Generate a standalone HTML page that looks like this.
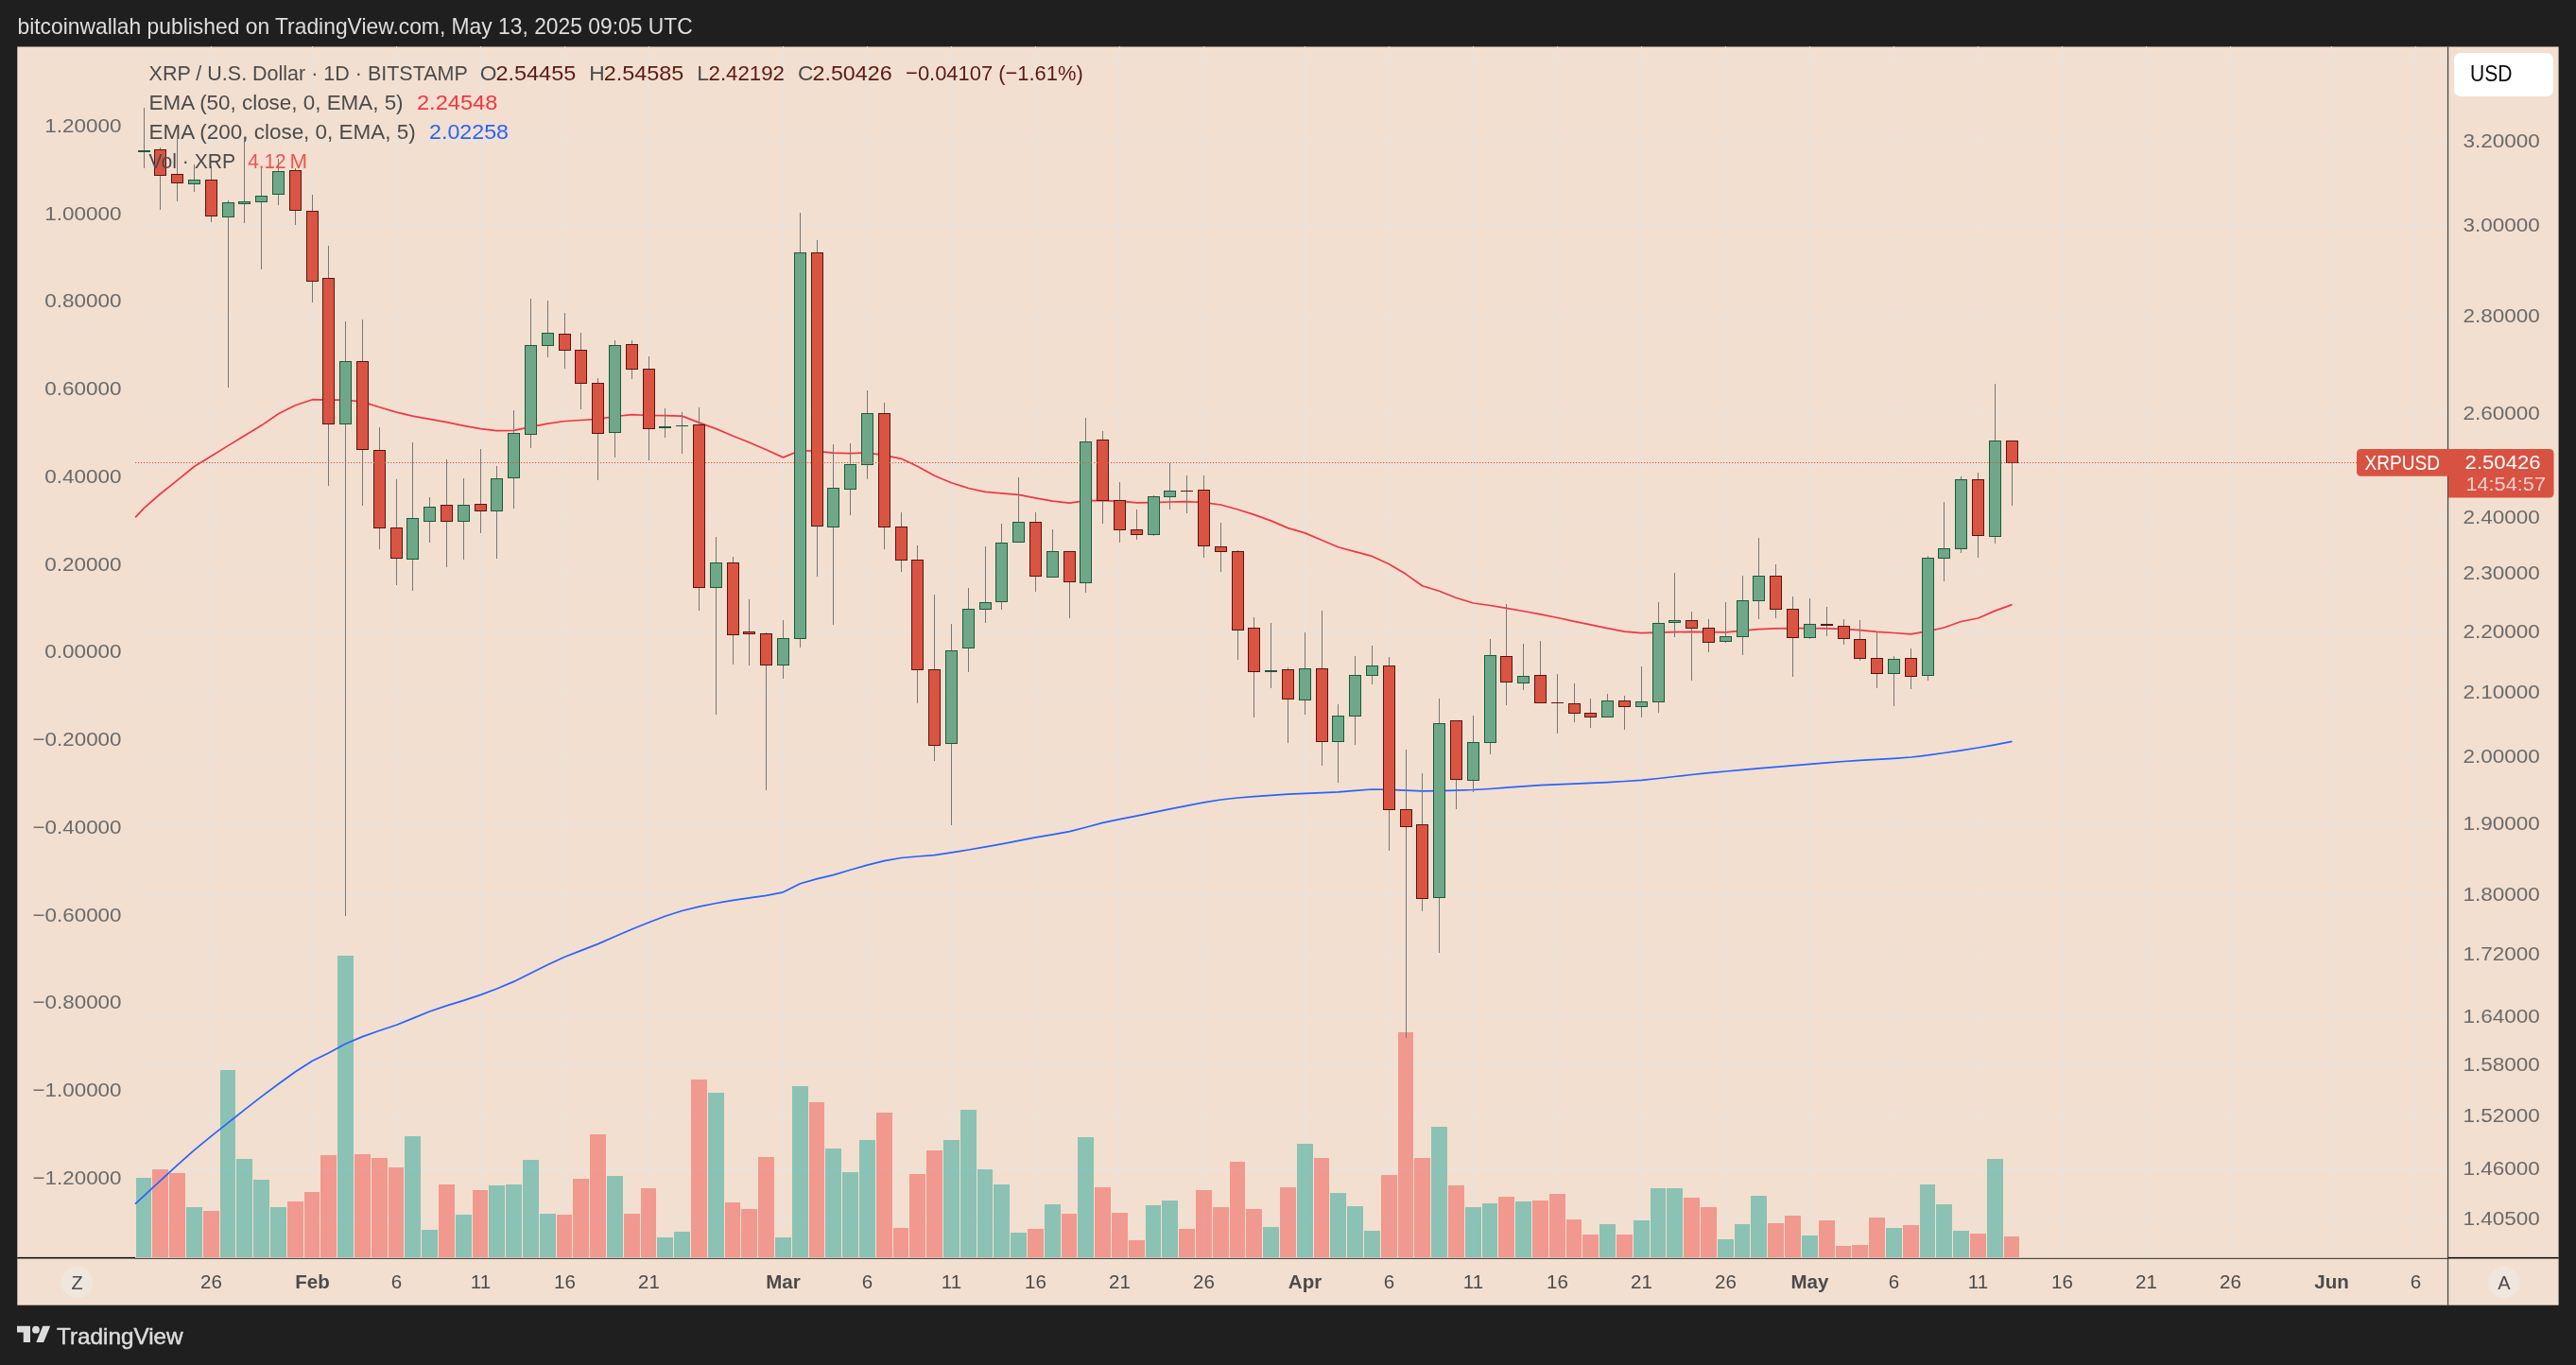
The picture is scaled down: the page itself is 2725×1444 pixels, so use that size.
<!DOCTYPE html>
<html><head><meta charset="utf-8"><title>XRPUSD</title>
<style>html,body{margin:0;padding:0;background:#1f1f1f;}body{width:2725px;height:1444px;position:relative;overflow:hidden;font-family:"Liberation Sans", sans-serif;}</style>
</head><body>
<svg width="2725" height="1444" viewBox="0 0 2725 1444" style="position:absolute;left:0;top:0;will-change:transform" font-family='"Liberation Sans", sans-serif'>
<rect x="18.3" y="49.45" width="2688.2999999999997" height="1331.25" fill="#f2dfcf"/>
<g stroke="#e5e4e4" stroke-width="1" shape-rendering="crispEdges">
<line x1="143" x2="2589.5" y1="65.5" y2="65.5"/>
<line x1="143" x2="2589.5" y1="149.5" y2="149.5"/>
<line x1="143" x2="2589.5" y1="238.5" y2="238.5"/>
<line x1="143" x2="2589.5" y1="334.5" y2="334.5"/>
<line x1="143" x2="2589.5" y1="437.5" y2="437.5"/>
<line x1="143" x2="2589.5" y1="491.5" y2="491.5"/>
<line x1="143" x2="2589.5" y1="547.5" y2="547.5"/>
<line x1="143" x2="2589.5" y1="606.5" y2="606.5"/>
<line x1="143" x2="2589.5" y1="668.5" y2="668.5"/>
<line x1="143" x2="2589.5" y1="732.5" y2="732.5"/>
<line x1="143" x2="2589.5" y1="800.5" y2="800.5"/>
<line x1="143" x2="2589.5" y1="871.5" y2="871.5"/>
<line x1="143" x2="2589.5" y1="946.5" y2="946.5"/>
<line x1="143" x2="2589.5" y1="1009.5" y2="1009.5"/>
<line x1="143" x2="2589.5" y1="1075.5" y2="1075.5"/>
<line x1="143" x2="2589.5" y1="1126.5" y2="1126.5"/>
<line x1="143" x2="2589.5" y1="1180.5" y2="1180.5"/>
<line x1="143" x2="2589.5" y1="1236.5" y2="1236.5"/>
<line x1="143" x2="2589.5" y1="1289.5" y2="1289.5"/>
<line x1="223.5" x2="223.5" y1="49.45" y2="1330.5"/>
<line x1="330.5" x2="330.5" y1="49.45" y2="1330.5"/>
<line x1="419.5" x2="419.5" y1="49.45" y2="1330.5"/>
<line x1="508.5" x2="508.5" y1="49.45" y2="1330.5"/>
<line x1="597.5" x2="597.5" y1="49.45" y2="1330.5"/>
<line x1="686.5" x2="686.5" y1="49.45" y2="1330.5"/>
<line x1="828.5" x2="828.5" y1="49.45" y2="1330.5"/>
<line x1="917.5" x2="917.5" y1="49.45" y2="1330.5"/>
<line x1="1006.5" x2="1006.5" y1="49.45" y2="1330.5"/>
<line x1="1095.5" x2="1095.5" y1="49.45" y2="1330.5"/>
<line x1="1184.5" x2="1184.5" y1="49.45" y2="1330.5"/>
<line x1="1273.5" x2="1273.5" y1="49.45" y2="1330.5"/>
<line x1="1380.5" x2="1380.5" y1="49.45" y2="1330.5"/>
<line x1="1469.5" x2="1469.5" y1="49.45" y2="1330.5"/>
<line x1="1558.5" x2="1558.5" y1="49.45" y2="1330.5"/>
<line x1="1647.5" x2="1647.5" y1="49.45" y2="1330.5"/>
<line x1="1736.5" x2="1736.5" y1="49.45" y2="1330.5"/>
<line x1="1825.5" x2="1825.5" y1="49.45" y2="1330.5"/>
<line x1="1914.5" x2="1914.5" y1="49.45" y2="1330.5"/>
<line x1="2003.5" x2="2003.5" y1="49.45" y2="1330.5"/>
<line x1="2092.5" x2="2092.5" y1="49.45" y2="1330.5"/>
<line x1="2181.5" x2="2181.5" y1="49.45" y2="1330.5"/>
<line x1="2270.5" x2="2270.5" y1="49.45" y2="1330.5"/>
<line x1="2359.5" x2="2359.5" y1="49.45" y2="1330.5"/>
<line x1="2466.5" x2="2466.5" y1="49.45" y2="1330.5"/>
<line x1="2555.5" x2="2555.5" y1="49.45" y2="1330.5"/>
</g>
<g shape-rendering="crispEdges">
<rect x="144" y="1246" width="16" height="84" fill="rgba(38,166,154,0.5)"/>
<rect x="161" y="1237" width="17" height="93" fill="rgba(239,83,80,0.5)"/>
<rect x="179" y="1241" width="17" height="89" fill="rgba(239,83,80,0.5)"/>
<rect x="197" y="1277" width="17" height="53" fill="rgba(38,166,154,0.5)"/>
<rect x="215" y="1281" width="17" height="49" fill="rgba(239,83,80,0.5)"/>
<rect x="233" y="1132" width="16" height="198" fill="rgba(38,166,154,0.5)"/>
<rect x="250" y="1226" width="17" height="104" fill="rgba(38,166,154,0.5)"/>
<rect x="268" y="1248" width="17" height="82" fill="rgba(38,166,154,0.5)"/>
<rect x="286" y="1277" width="17" height="53" fill="rgba(38,166,154,0.5)"/>
<rect x="304" y="1271" width="17" height="59" fill="rgba(239,83,80,0.5)"/>
<rect x="322" y="1261" width="16" height="69" fill="rgba(239,83,80,0.5)"/>
<rect x="339" y="1222" width="17" height="108" fill="rgba(239,83,80,0.5)"/>
<rect x="357" y="1011" width="17" height="319" fill="rgba(38,166,154,0.5)"/>
<rect x="375" y="1221" width="17" height="109" fill="rgba(239,83,80,0.5)"/>
<rect x="393" y="1225" width="17" height="105" fill="rgba(239,83,80,0.5)"/>
<rect x="411" y="1235" width="16" height="95" fill="rgba(239,83,80,0.5)"/>
<rect x="428" y="1202" width="17" height="128" fill="rgba(38,166,154,0.5)"/>
<rect x="446" y="1301" width="17" height="29" fill="rgba(38,166,154,0.5)"/>
<rect x="464" y="1253" width="17" height="77" fill="rgba(239,83,80,0.5)"/>
<rect x="482" y="1285" width="17" height="45" fill="rgba(38,166,154,0.5)"/>
<rect x="500" y="1259" width="16" height="71" fill="rgba(239,83,80,0.5)"/>
<rect x="517" y="1254" width="17" height="76" fill="rgba(38,166,154,0.5)"/>
<rect x="535" y="1253" width="17" height="77" fill="rgba(38,166,154,0.5)"/>
<rect x="553" y="1227" width="17" height="103" fill="rgba(38,166,154,0.5)"/>
<rect x="571" y="1284" width="17" height="46" fill="rgba(38,166,154,0.5)"/>
<rect x="589" y="1285" width="16" height="45" fill="rgba(239,83,80,0.5)"/>
<rect x="606" y="1247" width="17" height="83" fill="rgba(239,83,80,0.5)"/>
<rect x="624" y="1200" width="17" height="130" fill="rgba(239,83,80,0.5)"/>
<rect x="642" y="1244" width="17" height="86" fill="rgba(38,166,154,0.5)"/>
<rect x="660" y="1284" width="17" height="46" fill="rgba(239,83,80,0.5)"/>
<rect x="678" y="1257" width="16" height="73" fill="rgba(239,83,80,0.5)"/>
<rect x="695" y="1309" width="17" height="21" fill="rgba(38,166,154,0.5)"/>
<rect x="713" y="1303" width="17" height="27" fill="rgba(38,166,154,0.5)"/>
<rect x="731" y="1142" width="17" height="188" fill="rgba(239,83,80,0.5)"/>
<rect x="749" y="1156" width="17" height="174" fill="rgba(38,166,154,0.5)"/>
<rect x="767" y="1272" width="16" height="58" fill="rgba(239,83,80,0.5)"/>
<rect x="784" y="1279" width="17" height="51" fill="rgba(239,83,80,0.5)"/>
<rect x="802" y="1224" width="17" height="106" fill="rgba(239,83,80,0.5)"/>
<rect x="820" y="1309" width="17" height="21" fill="rgba(38,166,154,0.5)"/>
<rect x="838" y="1149" width="17" height="181" fill="rgba(38,166,154,0.5)"/>
<rect x="856" y="1166" width="16" height="164" fill="rgba(239,83,80,0.5)"/>
<rect x="873" y="1215" width="17" height="115" fill="rgba(38,166,154,0.5)"/>
<rect x="891" y="1240" width="17" height="90" fill="rgba(38,166,154,0.5)"/>
<rect x="909" y="1206" width="17" height="124" fill="rgba(38,166,154,0.5)"/>
<rect x="927" y="1177" width="17" height="153" fill="rgba(239,83,80,0.5)"/>
<rect x="945" y="1299" width="16" height="31" fill="rgba(239,83,80,0.5)"/>
<rect x="962" y="1242" width="17" height="88" fill="rgba(239,83,80,0.5)"/>
<rect x="980" y="1217" width="17" height="113" fill="rgba(239,83,80,0.5)"/>
<rect x="998" y="1206" width="17" height="124" fill="rgba(38,166,154,0.5)"/>
<rect x="1016" y="1174" width="17" height="156" fill="rgba(38,166,154,0.5)"/>
<rect x="1034" y="1237" width="16" height="93" fill="rgba(38,166,154,0.5)"/>
<rect x="1051" y="1253" width="17" height="77" fill="rgba(38,166,154,0.5)"/>
<rect x="1069" y="1304" width="17" height="26" fill="rgba(38,166,154,0.5)"/>
<rect x="1087" y="1300" width="17" height="30" fill="rgba(239,83,80,0.5)"/>
<rect x="1105" y="1274" width="17" height="56" fill="rgba(38,166,154,0.5)"/>
<rect x="1123" y="1284" width="16" height="46" fill="rgba(239,83,80,0.5)"/>
<rect x="1140" y="1203" width="17" height="127" fill="rgba(38,166,154,0.5)"/>
<rect x="1158" y="1256" width="17" height="74" fill="rgba(239,83,80,0.5)"/>
<rect x="1176" y="1283" width="17" height="47" fill="rgba(239,83,80,0.5)"/>
<rect x="1194" y="1312" width="17" height="18" fill="rgba(239,83,80,0.5)"/>
<rect x="1212" y="1275" width="16" height="55" fill="rgba(38,166,154,0.5)"/>
<rect x="1229" y="1270" width="17" height="60" fill="rgba(38,166,154,0.5)"/>
<rect x="1247" y="1300" width="17" height="30" fill="rgba(239,83,80,0.5)"/>
<rect x="1265" y="1259" width="17" height="71" fill="rgba(239,83,80,0.5)"/>
<rect x="1283" y="1277" width="17" height="53" fill="rgba(239,83,80,0.5)"/>
<rect x="1301" y="1229" width="16" height="101" fill="rgba(239,83,80,0.5)"/>
<rect x="1318" y="1279" width="17" height="51" fill="rgba(239,83,80,0.5)"/>
<rect x="1336" y="1298" width="17" height="32" fill="rgba(38,166,154,0.5)"/>
<rect x="1354" y="1256" width="17" height="74" fill="rgba(239,83,80,0.5)"/>
<rect x="1372" y="1210" width="17" height="120" fill="rgba(38,166,154,0.5)"/>
<rect x="1390" y="1225" width="16" height="105" fill="rgba(239,83,80,0.5)"/>
<rect x="1407" y="1262" width="17" height="68" fill="rgba(38,166,154,0.5)"/>
<rect x="1425" y="1276" width="17" height="54" fill="rgba(38,166,154,0.5)"/>
<rect x="1443" y="1302" width="17" height="28" fill="rgba(38,166,154,0.5)"/>
<rect x="1461" y="1243" width="17" height="87" fill="rgba(239,83,80,0.5)"/>
<rect x="1479" y="1092" width="16" height="238" fill="rgba(239,83,80,0.5)"/>
<rect x="1496" y="1225" width="17" height="105" fill="rgba(239,83,80,0.5)"/>
<rect x="1514" y="1192" width="17" height="138" fill="rgba(38,166,154,0.5)"/>
<rect x="1532" y="1254" width="17" height="76" fill="rgba(239,83,80,0.5)"/>
<rect x="1550" y="1277" width="17" height="53" fill="rgba(38,166,154,0.5)"/>
<rect x="1568" y="1273" width="16" height="57" fill="rgba(38,166,154,0.5)"/>
<rect x="1585" y="1266" width="17" height="64" fill="rgba(239,83,80,0.5)"/>
<rect x="1603" y="1271" width="17" height="59" fill="rgba(38,166,154,0.5)"/>
<rect x="1621" y="1270" width="17" height="60" fill="rgba(239,83,80,0.5)"/>
<rect x="1639" y="1263" width="17" height="67" fill="rgba(239,83,80,0.5)"/>
<rect x="1657" y="1290" width="16" height="40" fill="rgba(239,83,80,0.5)"/>
<rect x="1674" y="1306" width="17" height="24" fill="rgba(239,83,80,0.5)"/>
<rect x="1692" y="1295" width="17" height="35" fill="rgba(38,166,154,0.5)"/>
<rect x="1710" y="1306" width="17" height="24" fill="rgba(239,83,80,0.5)"/>
<rect x="1728" y="1291" width="17" height="39" fill="rgba(38,166,154,0.5)"/>
<rect x="1746" y="1257" width="16" height="73" fill="rgba(38,166,154,0.5)"/>
<rect x="1763" y="1257" width="17" height="73" fill="rgba(38,166,154,0.5)"/>
<rect x="1781" y="1267" width="17" height="63" fill="rgba(239,83,80,0.5)"/>
<rect x="1799" y="1277" width="17" height="53" fill="rgba(239,83,80,0.5)"/>
<rect x="1817" y="1311" width="17" height="19" fill="rgba(38,166,154,0.5)"/>
<rect x="1835" y="1295" width="16" height="35" fill="rgba(38,166,154,0.5)"/>
<rect x="1852" y="1265" width="17" height="65" fill="rgba(38,166,154,0.5)"/>
<rect x="1870" y="1294" width="17" height="36" fill="rgba(239,83,80,0.5)"/>
<rect x="1888" y="1286" width="17" height="44" fill="rgba(239,83,80,0.5)"/>
<rect x="1906" y="1307" width="17" height="23" fill="rgba(38,166,154,0.5)"/>
<rect x="1924" y="1291" width="17" height="39" fill="rgba(239,83,80,0.5)"/>
<rect x="1942" y="1318" width="16" height="12" fill="rgba(239,83,80,0.5)"/>
<rect x="1959" y="1317" width="17" height="13" fill="rgba(239,83,80,0.5)"/>
<rect x="1977" y="1288" width="17" height="42" fill="rgba(239,83,80,0.5)"/>
<rect x="1995" y="1299" width="17" height="31" fill="rgba(38,166,154,0.5)"/>
<rect x="2013" y="1296" width="17" height="34" fill="rgba(239,83,80,0.5)"/>
<rect x="2031" y="1253" width="16" height="77" fill="rgba(38,166,154,0.5)"/>
<rect x="2048" y="1274" width="17" height="56" fill="rgba(38,166,154,0.5)"/>
<rect x="2066" y="1302" width="17" height="28" fill="rgba(38,166,154,0.5)"/>
<rect x="2084" y="1305" width="17" height="25" fill="rgba(239,83,80,0.5)"/>
<rect x="2102" y="1226" width="17" height="104" fill="rgba(38,166,154,0.5)"/>
<rect x="2120" y="1308" width="16" height="22" fill="rgba(239,83,80,0.5)"/>
</g>
<path d="M143.0,1273.7 L152.5,1264.9 L169.5,1249.1 L187.5,1232.6 L205.5,1216.7 L223.5,1201.9 L241.5,1187.6 L258.5,1174.2 L276.5,1160.2 L294.5,1146.8 L312.5,1133.8 L330.5,1122.3 L347.5,1113.9 L365.5,1104.2 L383.5,1096.6 L401.5,1090.3 L419.5,1084.2 L436.5,1077.4 L454.5,1070.0 L472.5,1063.9 L490.5,1058.4 L508.5,1052.4 L525.5,1046.0 L543.5,1038.4 L561.5,1029.4 L579.5,1020.5 L597.5,1012.3 L614.5,1005.6 L632.5,998.6 L650.5,990.8 L668.5,983.0 L686.5,975.7 L703.5,969.2 L721.5,963.5 L739.5,959.1 L757.5,955.5 L775.5,952.4 L792.5,949.8 L810.5,947.4 L828.5,943.8 L846.5,934.7 L864.5,929.6 L881.5,925.6 L899.5,920.2 L917.5,915.1 L935.5,910.7 L953.5,907.5 L970.5,906.0 L988.5,904.6 L1006.5,901.9 L1024.5,899.0 L1042.5,895.9 L1059.5,892.8 L1077.5,889.3 L1095.5,885.8 L1113.5,882.8 L1131.5,879.6 L1148.5,875.2 L1166.5,870.4 L1184.5,866.6 L1202.5,863.1 L1220.5,859.4 L1237.5,855.9 L1255.5,852.4 L1273.5,848.9 L1291.5,846.0 L1309.5,844.0 L1326.5,842.6 L1344.5,841.3 L1362.5,840.2 L1380.5,839.3 L1398.5,838.6 L1415.5,837.9 L1433.5,836.4 L1451.5,835.0 L1469.5,835.4 L1487.5,836.2 L1504.5,836.8 L1522.5,836.6 L1540.5,836.1 L1558.5,835.5 L1576.5,834.5 L1593.5,833.2 L1611.5,831.8 L1629.5,830.6 L1647.5,829.8 L1665.5,829.1 L1682.5,828.4 L1700.5,827.6 L1718.5,826.5 L1736.5,825.3 L1754.5,823.5 L1771.5,821.5 L1789.5,819.5 L1807.5,817.7 L1825.5,816.0 L1843.5,814.3 L1860.5,812.9 L1878.5,811.4 L1896.5,809.9 L1914.5,808.3 L1932.5,806.8 L1950.5,805.5 L1967.5,804.4 L1985.5,803.3 L2003.5,802.3 L2021.5,801.0 L2039.5,798.9 L2056.5,796.5 L2074.5,793.8 L2092.5,791.0 L2110.5,787.8 L2128.5,784.4" fill="none" stroke="#2962ff" stroke-width="1.7" stroke-linejoin="round"/>
<path d="M143.1,547.3 L152.5,537.3 L169.5,522.5 L187.5,508.2 L205.5,493.5 L223.5,482.5 L241.5,471.4 L258.5,461.0 L276.5,450.1 L294.5,437.7 L312.5,428.7 L330.5,422.7 L347.5,423.1 L365.5,423.0 L383.5,425.1 L401.5,430.7 L419.5,436.1 L436.5,440.1 L454.5,443.3 L472.5,446.6 L490.5,450.4 L508.5,453.7 L525.5,455.7 L543.5,455.4 L561.5,451.6 L579.5,448.1 L597.5,445.5 L614.5,444.5 L632.5,443.3 L650.5,440.5 L668.5,438.7 L686.5,439.5 L703.5,439.7 L721.5,440.1 L739.5,447.1 L757.5,453.6 L775.5,461.3 L792.5,468.0 L810.5,475.8 L828.5,483.9 L846.5,476.5 L864.5,477.4 L881.5,479.1 L899.5,479.6 L917.5,478.9 L935.5,481.7 L953.5,485.3 L970.5,493.3 L988.5,503.2 L1006.5,510.7 L1024.5,516.5 L1042.5,520.3 L1059.5,521.8 L1077.5,523.3 L1095.5,526.8 L1113.5,530.2 L1131.5,532.1 L1148.5,529.6 L1166.5,529.7 L1184.5,530.1 L1202.5,531.9 L1220.5,531.6 L1237.5,531.0 L1255.5,530.6 L1273.5,531.6 L1291.5,534.0 L1309.5,539.0 L1326.5,544.4 L1344.5,550.9 L1362.5,558.6 L1380.5,563.9 L1398.5,571.5 L1415.5,578.8 L1433.5,583.6 L1451.5,588.4 L1469.5,596.7 L1487.5,607.6 L1504.5,619.8 L1522.5,625.3 L1540.5,632.5 L1558.5,638.0 L1576.5,640.5 L1593.5,643.4 L1611.5,646.5 L1629.5,649.8 L1647.5,653.5 L1665.5,657.4 L1682.5,660.8 L1700.5,664.7 L1718.5,668.1 L1736.5,669.6 L1754.5,669.1 L1771.5,668.6 L1789.5,668.4 L1807.5,668.7 L1825.5,668.9 L1843.5,667.1 L1860.5,665.6 L1878.5,664.9 L1896.5,664.7 L1914.5,664.6 L1932.5,664.9 L1950.5,665.4 L1967.5,666.7 L1985.5,668.4 L2003.5,669.5 L2021.5,670.8 L2039.5,667.6 L2056.5,664.0 L2074.5,657.5 L2092.5,654.0 L2110.5,646.1 L2128.5,639.6" fill="none" stroke="#f23645" stroke-width="1.7" stroke-linejoin="round"/>
<g shape-rendering="crispEdges">
<rect x="152" y="114" width="1" height="64" fill="#77777a"/>
<rect x="169" y="156" width="1" height="66" fill="#77777a"/>
<rect x="187" y="147" width="1" height="66" fill="#77777a"/>
<rect x="205" y="174" width="1" height="29" fill="#77777a"/>
<rect x="223" y="176" width="1" height="59" fill="#77777a"/>
<rect x="241" y="212" width="1" height="198" fill="#77777a"/>
<rect x="258" y="146" width="1" height="90" fill="#77777a"/>
<rect x="276" y="177" width="1" height="108" fill="#77777a"/>
<rect x="294" y="168" width="1" height="49" fill="#77777a"/>
<rect x="312" y="178" width="1" height="60" fill="#77777a"/>
<rect x="330" y="206" width="1" height="114" fill="#77777a"/>
<rect x="347" y="260" width="1" height="254" fill="#77777a"/>
<rect x="365" y="340" width="1" height="629" fill="#77777a"/>
<rect x="383" y="338" width="1" height="197" fill="#77777a"/>
<rect x="401" y="452" width="1" height="129" fill="#77777a"/>
<rect x="419" y="507" width="1" height="112" fill="#77777a"/>
<rect x="436" y="468" width="1" height="157" fill="#77777a"/>
<rect x="454" y="526" width="1" height="48" fill="#77777a"/>
<rect x="472" y="486" width="1" height="114" fill="#77777a"/>
<rect x="490" y="506" width="1" height="86" fill="#77777a"/>
<rect x="508" y="475" width="1" height="89" fill="#77777a"/>
<rect x="525" y="493" width="1" height="98" fill="#77777a"/>
<rect x="543" y="434" width="1" height="104" fill="#77777a"/>
<rect x="561" y="316" width="1" height="158" fill="#77777a"/>
<rect x="579" y="318" width="1" height="60" fill="#77777a"/>
<rect x="597" y="331" width="1" height="59" fill="#77777a"/>
<rect x="614" y="352" width="1" height="81" fill="#77777a"/>
<rect x="632" y="400" width="1" height="108" fill="#77777a"/>
<rect x="650" y="360" width="1" height="124" fill="#77777a"/>
<rect x="668" y="360" width="1" height="41" fill="#77777a"/>
<rect x="686" y="377" width="1" height="110" fill="#77777a"/>
<rect x="703" y="432" width="1" height="31" fill="#77777a"/>
<rect x="721" y="436" width="1" height="44" fill="#77777a"/>
<rect x="739" y="431" width="1" height="215" fill="#77777a"/>
<rect x="757" y="568" width="1" height="188" fill="#77777a"/>
<rect x="775" y="589" width="1" height="114" fill="#77777a"/>
<rect x="792" y="634" width="1" height="70" fill="#77777a"/>
<rect x="810" y="669" width="1" height="167" fill="#77777a"/>
<rect x="828" y="656" width="1" height="62" fill="#77777a"/>
<rect x="846" y="225" width="1" height="460" fill="#77777a"/>
<rect x="864" y="254" width="1" height="356" fill="#77777a"/>
<rect x="881" y="470" width="1" height="191" fill="#77777a"/>
<rect x="899" y="469" width="1" height="76" fill="#77777a"/>
<rect x="917" y="413" width="1" height="94" fill="#77777a"/>
<rect x="935" y="426" width="1" height="155" fill="#77777a"/>
<rect x="953" y="542" width="1" height="63" fill="#77777a"/>
<rect x="970" y="577" width="1" height="167" fill="#77777a"/>
<rect x="988" y="629" width="1" height="176" fill="#77777a"/>
<rect x="1006" y="660" width="1" height="213" fill="#77777a"/>
<rect x="1024" y="622" width="1" height="89" fill="#77777a"/>
<rect x="1042" y="578" width="1" height="81" fill="#77777a"/>
<rect x="1059" y="554" width="1" height="91" fill="#77777a"/>
<rect x="1077" y="505" width="1" height="69" fill="#77777a"/>
<rect x="1095" y="542" width="1" height="84" fill="#77777a"/>
<rect x="1113" y="560" width="1" height="50" fill="#77777a"/>
<rect x="1131" y="583" width="1" height="71" fill="#77777a"/>
<rect x="1148" y="442" width="1" height="185" fill="#77777a"/>
<rect x="1166" y="456" width="1" height="98" fill="#77777a"/>
<rect x="1184" y="510" width="1" height="64" fill="#77777a"/>
<rect x="1202" y="539" width="1" height="32" fill="#77777a"/>
<rect x="1220" y="524" width="1" height="43" fill="#77777a"/>
<rect x="1237" y="490" width="1" height="49" fill="#77777a"/>
<rect x="1255" y="503" width="1" height="40" fill="#77777a"/>
<rect x="1273" y="503" width="1" height="87" fill="#77777a"/>
<rect x="1291" y="553" width="1" height="52" fill="#77777a"/>
<rect x="1309" y="582" width="1" height="116" fill="#77777a"/>
<rect x="1326" y="653" width="1" height="106" fill="#77777a"/>
<rect x="1344" y="659" width="1" height="69" fill="#77777a"/>
<rect x="1362" y="706" width="1" height="80" fill="#77777a"/>
<rect x="1380" y="669" width="1" height="87" fill="#77777a"/>
<rect x="1398" y="646" width="1" height="164" fill="#77777a"/>
<rect x="1415" y="745" width="1" height="83" fill="#77777a"/>
<rect x="1433" y="694" width="1" height="94" fill="#77777a"/>
<rect x="1451" y="683" width="1" height="41" fill="#77777a"/>
<rect x="1469" y="695" width="1" height="205" fill="#77777a"/>
<rect x="1487" y="793" width="1" height="305" fill="#77777a"/>
<rect x="1504" y="818" width="1" height="146" fill="#77777a"/>
<rect x="1522" y="739" width="1" height="269" fill="#77777a"/>
<rect x="1540" y="762" width="1" height="94" fill="#77777a"/>
<rect x="1558" y="757" width="1" height="81" fill="#77777a"/>
<rect x="1576" y="676" width="1" height="122" fill="#77777a"/>
<rect x="1593" y="639" width="1" height="107" fill="#77777a"/>
<rect x="1611" y="681" width="1" height="49" fill="#77777a"/>
<rect x="1629" y="678" width="1" height="66" fill="#77777a"/>
<rect x="1647" y="713" width="1" height="63" fill="#77777a"/>
<rect x="1665" y="723" width="1" height="41" fill="#77777a"/>
<rect x="1682" y="739" width="1" height="31" fill="#77777a"/>
<rect x="1700" y="734" width="1" height="25" fill="#77777a"/>
<rect x="1718" y="736" width="1" height="36" fill="#77777a"/>
<rect x="1736" y="705" width="1" height="54" fill="#77777a"/>
<rect x="1754" y="637" width="1" height="117" fill="#77777a"/>
<rect x="1771" y="606" width="1" height="68" fill="#77777a"/>
<rect x="1789" y="647" width="1" height="73" fill="#77777a"/>
<rect x="1807" y="655" width="1" height="35" fill="#77777a"/>
<rect x="1825" y="637" width="1" height="43" fill="#77777a"/>
<rect x="1843" y="609" width="1" height="84" fill="#77777a"/>
<rect x="1860" y="569" width="1" height="86" fill="#77777a"/>
<rect x="1878" y="597" width="1" height="57" fill="#77777a"/>
<rect x="1896" y="631" width="1" height="85" fill="#77777a"/>
<rect x="1914" y="633" width="1" height="43" fill="#77777a"/>
<rect x="1932" y="642" width="1" height="31" fill="#77777a"/>
<rect x="1950" y="655" width="1" height="27" fill="#77777a"/>
<rect x="1967" y="656" width="1" height="43" fill="#77777a"/>
<rect x="1985" y="668" width="1" height="60" fill="#77777a"/>
<rect x="2003" y="694" width="1" height="53" fill="#77777a"/>
<rect x="2021" y="686" width="1" height="43" fill="#77777a"/>
<rect x="2039" y="588" width="1" height="132" fill="#77777a"/>
<rect x="2056" y="531" width="1" height="84" fill="#77777a"/>
<rect x="2074" y="504" width="1" height="81" fill="#77777a"/>
<rect x="2092" y="500" width="1" height="90" fill="#77777a"/>
<rect x="2110" y="406" width="1" height="169" fill="#77777a"/>
<rect x="2128" y="466" width="1" height="69" fill="#77777a"/>
<rect x="146" y="159" width="13" height="2" fill="#1d5a3c"/>
<rect x="163" y="158" width="13" height="28" fill="#5a1510"/>
<rect x="164" y="159" width="11" height="26" fill="#da5443"/>
<rect x="181" y="184" width="13" height="10" fill="#5a1510"/>
<rect x="182" y="185" width="11" height="8" fill="#da5443"/>
<rect x="199" y="190" width="13" height="5" fill="#1d5a3c"/>
<rect x="200" y="191" width="11" height="3" fill="#6fa888"/>
<rect x="217" y="190" width="13" height="39" fill="#5a1510"/>
<rect x="218" y="191" width="11" height="37" fill="#da5443"/>
<rect x="235" y="214" width="13" height="16" fill="#1d5a3c"/>
<rect x="236" y="215" width="11" height="14" fill="#6fa888"/>
<rect x="252" y="213" width="13" height="3" fill="#1d5a3c"/>
<rect x="253" y="214" width="11" height="1" fill="#6fa888"/>
<rect x="270" y="207" width="13" height="7" fill="#1d5a3c"/>
<rect x="271" y="208" width="11" height="5" fill="#6fa888"/>
<rect x="288" y="181" width="13" height="25" fill="#1d5a3c"/>
<rect x="289" y="182" width="11" height="23" fill="#6fa888"/>
<rect x="306" y="180" width="13" height="43" fill="#5a1510"/>
<rect x="307" y="181" width="11" height="41" fill="#da5443"/>
<rect x="324" y="223" width="13" height="75" fill="#5a1510"/>
<rect x="325" y="224" width="11" height="73" fill="#da5443"/>
<rect x="341" y="294" width="13" height="155" fill="#5a1510"/>
<rect x="342" y="295" width="11" height="153" fill="#da5443"/>
<rect x="359" y="382" width="13" height="67" fill="#1d5a3c"/>
<rect x="360" y="383" width="11" height="65" fill="#6fa888"/>
<rect x="377" y="382" width="13" height="94" fill="#5a1510"/>
<rect x="378" y="383" width="11" height="92" fill="#da5443"/>
<rect x="395" y="476" width="13" height="83" fill="#5a1510"/>
<rect x="396" y="477" width="11" height="81" fill="#da5443"/>
<rect x="413" y="558" width="13" height="33" fill="#5a1510"/>
<rect x="414" y="559" width="11" height="31" fill="#da5443"/>
<rect x="430" y="548" width="13" height="44" fill="#1d5a3c"/>
<rect x="431" y="549" width="11" height="42" fill="#6fa888"/>
<rect x="448" y="536" width="13" height="16" fill="#1d5a3c"/>
<rect x="449" y="537" width="11" height="14" fill="#6fa888"/>
<rect x="466" y="534" width="13" height="18" fill="#5a1510"/>
<rect x="467" y="535" width="11" height="16" fill="#da5443"/>
<rect x="484" y="534" width="13" height="18" fill="#1d5a3c"/>
<rect x="485" y="535" width="11" height="16" fill="#6fa888"/>
<rect x="502" y="533" width="13" height="8" fill="#5a1510"/>
<rect x="503" y="534" width="11" height="6" fill="#da5443"/>
<rect x="519" y="506" width="13" height="35" fill="#1d5a3c"/>
<rect x="520" y="507" width="11" height="33" fill="#6fa888"/>
<rect x="537" y="458" width="13" height="48" fill="#1d5a3c"/>
<rect x="538" y="459" width="11" height="46" fill="#6fa888"/>
<rect x="555" y="365" width="13" height="95" fill="#1d5a3c"/>
<rect x="556" y="366" width="11" height="93" fill="#6fa888"/>
<rect x="573" y="352" width="13" height="14" fill="#1d5a3c"/>
<rect x="574" y="353" width="11" height="12" fill="#6fa888"/>
<rect x="591" y="353" width="13" height="18" fill="#5a1510"/>
<rect x="592" y="354" width="11" height="16" fill="#da5443"/>
<rect x="608" y="370" width="13" height="36" fill="#5a1510"/>
<rect x="609" y="371" width="11" height="34" fill="#da5443"/>
<rect x="626" y="405" width="13" height="54" fill="#5a1510"/>
<rect x="627" y="406" width="11" height="52" fill="#da5443"/>
<rect x="644" y="365" width="13" height="93" fill="#1d5a3c"/>
<rect x="645" y="366" width="11" height="91" fill="#6fa888"/>
<rect x="662" y="364" width="13" height="27" fill="#5a1510"/>
<rect x="663" y="365" width="11" height="25" fill="#da5443"/>
<rect x="680" y="390" width="13" height="64" fill="#5a1510"/>
<rect x="681" y="391" width="11" height="62" fill="#da5443"/>
<rect x="697" y="451" width="13" height="2" fill="#1d5a3c"/>
<rect x="715" y="450" width="13" height="1" fill="#1d5a3c"/>
<rect x="733" y="449" width="13" height="173" fill="#5a1510"/>
<rect x="734" y="450" width="11" height="171" fill="#da5443"/>
<rect x="751" y="595" width="13" height="27" fill="#1d5a3c"/>
<rect x="752" y="596" width="11" height="25" fill="#6fa888"/>
<rect x="769" y="595" width="13" height="77" fill="#5a1510"/>
<rect x="770" y="596" width="11" height="75" fill="#da5443"/>
<rect x="786" y="668" width="13" height="3" fill="#5a1510"/>
<rect x="787" y="669" width="11" height="1" fill="#da5443"/>
<rect x="804" y="670" width="13" height="34" fill="#5a1510"/>
<rect x="805" y="671" width="11" height="32" fill="#da5443"/>
<rect x="822" y="675" width="13" height="29" fill="#1d5a3c"/>
<rect x="823" y="676" width="11" height="27" fill="#6fa888"/>
<rect x="840" y="267" width="13" height="409" fill="#1d5a3c"/>
<rect x="841" y="268" width="11" height="407" fill="#6fa888"/>
<rect x="858" y="267" width="13" height="290" fill="#5a1510"/>
<rect x="859" y="268" width="11" height="288" fill="#da5443"/>
<rect x="875" y="516" width="13" height="42" fill="#1d5a3c"/>
<rect x="876" y="517" width="11" height="40" fill="#6fa888"/>
<rect x="893" y="491" width="13" height="27" fill="#1d5a3c"/>
<rect x="894" y="492" width="11" height="25" fill="#6fa888"/>
<rect x="911" y="437" width="13" height="55" fill="#1d5a3c"/>
<rect x="912" y="438" width="11" height="53" fill="#6fa888"/>
<rect x="929" y="437" width="13" height="121" fill="#5a1510"/>
<rect x="930" y="438" width="11" height="119" fill="#da5443"/>
<rect x="947" y="557" width="13" height="36" fill="#5a1510"/>
<rect x="948" y="558" width="11" height="34" fill="#da5443"/>
<rect x="964" y="592" width="13" height="117" fill="#5a1510"/>
<rect x="965" y="593" width="11" height="115" fill="#da5443"/>
<rect x="982" y="708" width="13" height="81" fill="#5a1510"/>
<rect x="983" y="709" width="11" height="79" fill="#da5443"/>
<rect x="1000" y="688" width="13" height="99" fill="#1d5a3c"/>
<rect x="1001" y="689" width="11" height="97" fill="#6fa888"/>
<rect x="1018" y="644" width="13" height="42" fill="#1d5a3c"/>
<rect x="1019" y="645" width="11" height="40" fill="#6fa888"/>
<rect x="1036" y="637" width="13" height="8" fill="#1d5a3c"/>
<rect x="1037" y="638" width="11" height="6" fill="#6fa888"/>
<rect x="1053" y="574" width="13" height="63" fill="#1d5a3c"/>
<rect x="1054" y="575" width="11" height="61" fill="#6fa888"/>
<rect x="1071" y="552" width="13" height="22" fill="#1d5a3c"/>
<rect x="1072" y="553" width="11" height="20" fill="#6fa888"/>
<rect x="1089" y="552" width="13" height="58" fill="#5a1510"/>
<rect x="1090" y="553" width="11" height="56" fill="#da5443"/>
<rect x="1107" y="583" width="13" height="28" fill="#1d5a3c"/>
<rect x="1108" y="584" width="11" height="26" fill="#6fa888"/>
<rect x="1125" y="583" width="13" height="33" fill="#5a1510"/>
<rect x="1126" y="584" width="11" height="31" fill="#da5443"/>
<rect x="1142" y="467" width="13" height="150" fill="#1d5a3c"/>
<rect x="1143" y="468" width="11" height="148" fill="#6fa888"/>
<rect x="1160" y="465" width="13" height="65" fill="#5a1510"/>
<rect x="1161" y="466" width="11" height="63" fill="#da5443"/>
<rect x="1178" y="529" width="13" height="32" fill="#5a1510"/>
<rect x="1179" y="530" width="11" height="30" fill="#da5443"/>
<rect x="1196" y="560" width="13" height="6" fill="#5a1510"/>
<rect x="1197" y="561" width="11" height="4" fill="#da5443"/>
<rect x="1214" y="525" width="13" height="41" fill="#1d5a3c"/>
<rect x="1215" y="526" width="11" height="39" fill="#6fa888"/>
<rect x="1231" y="519" width="13" height="7" fill="#1d5a3c"/>
<rect x="1232" y="520" width="11" height="5" fill="#6fa888"/>
<rect x="1249" y="519" width="13" height="1" fill="#5a1510"/>
<rect x="1267" y="518" width="13" height="60" fill="#5a1510"/>
<rect x="1268" y="519" width="11" height="58" fill="#da5443"/>
<rect x="1285" y="578" width="13" height="6" fill="#5a1510"/>
<rect x="1286" y="579" width="11" height="4" fill="#da5443"/>
<rect x="1303" y="583" width="13" height="84" fill="#5a1510"/>
<rect x="1304" y="584" width="11" height="82" fill="#da5443"/>
<rect x="1320" y="664" width="13" height="47" fill="#5a1510"/>
<rect x="1321" y="665" width="11" height="45" fill="#da5443"/>
<rect x="1338" y="709" width="13" height="2" fill="#1d5a3c"/>
<rect x="1356" y="708" width="13" height="32" fill="#5a1510"/>
<rect x="1357" y="709" width="11" height="30" fill="#da5443"/>
<rect x="1374" y="707" width="13" height="34" fill="#1d5a3c"/>
<rect x="1375" y="708" width="11" height="32" fill="#6fa888"/>
<rect x="1392" y="707" width="13" height="78" fill="#5a1510"/>
<rect x="1393" y="708" width="11" height="76" fill="#da5443"/>
<rect x="1409" y="757" width="13" height="28" fill="#1d5a3c"/>
<rect x="1410" y="758" width="11" height="26" fill="#6fa888"/>
<rect x="1427" y="714" width="13" height="44" fill="#1d5a3c"/>
<rect x="1428" y="715" width="11" height="42" fill="#6fa888"/>
<rect x="1445" y="704" width="13" height="11" fill="#1d5a3c"/>
<rect x="1446" y="705" width="11" height="9" fill="#6fa888"/>
<rect x="1463" y="704" width="13" height="153" fill="#5a1510"/>
<rect x="1464" y="705" width="11" height="151" fill="#da5443"/>
<rect x="1481" y="856" width="13" height="19" fill="#5a1510"/>
<rect x="1482" y="857" width="11" height="17" fill="#da5443"/>
<rect x="1498" y="872" width="13" height="79" fill="#5a1510"/>
<rect x="1499" y="873" width="11" height="77" fill="#da5443"/>
<rect x="1516" y="765" width="13" height="185" fill="#1d5a3c"/>
<rect x="1517" y="766" width="11" height="183" fill="#6fa888"/>
<rect x="1534" y="762" width="13" height="63" fill="#5a1510"/>
<rect x="1535" y="763" width="11" height="61" fill="#da5443"/>
<rect x="1552" y="785" width="13" height="41" fill="#1d5a3c"/>
<rect x="1553" y="786" width="11" height="39" fill="#6fa888"/>
<rect x="1570" y="693" width="13" height="93" fill="#1d5a3c"/>
<rect x="1571" y="694" width="11" height="91" fill="#6fa888"/>
<rect x="1587" y="694" width="13" height="28" fill="#5a1510"/>
<rect x="1588" y="695" width="11" height="26" fill="#da5443"/>
<rect x="1605" y="715" width="13" height="8" fill="#1d5a3c"/>
<rect x="1606" y="716" width="11" height="6" fill="#6fa888"/>
<rect x="1623" y="714" width="13" height="30" fill="#5a1510"/>
<rect x="1624" y="715" width="11" height="28" fill="#da5443"/>
<rect x="1641" y="743" width="13" height="1" fill="#5a1510"/>
<rect x="1659" y="744" width="13" height="11" fill="#5a1510"/>
<rect x="1660" y="745" width="11" height="9" fill="#da5443"/>
<rect x="1676" y="754" width="13" height="5" fill="#5a1510"/>
<rect x="1677" y="755" width="11" height="3" fill="#da5443"/>
<rect x="1694" y="741" width="13" height="18" fill="#1d5a3c"/>
<rect x="1695" y="742" width="11" height="16" fill="#6fa888"/>
<rect x="1712" y="741" width="13" height="7" fill="#5a1510"/>
<rect x="1713" y="742" width="11" height="5" fill="#da5443"/>
<rect x="1730" y="742" width="13" height="6" fill="#1d5a3c"/>
<rect x="1731" y="743" width="11" height="4" fill="#6fa888"/>
<rect x="1748" y="659" width="13" height="84" fill="#1d5a3c"/>
<rect x="1749" y="660" width="11" height="82" fill="#6fa888"/>
<rect x="1765" y="656" width="13" height="3" fill="#1d5a3c"/>
<rect x="1766" y="657" width="11" height="1" fill="#6fa888"/>
<rect x="1783" y="656" width="13" height="9" fill="#5a1510"/>
<rect x="1784" y="657" width="11" height="7" fill="#da5443"/>
<rect x="1801" y="664" width="13" height="16" fill="#5a1510"/>
<rect x="1802" y="665" width="11" height="14" fill="#da5443"/>
<rect x="1819" y="673" width="13" height="6" fill="#1d5a3c"/>
<rect x="1820" y="674" width="11" height="4" fill="#6fa888"/>
<rect x="1837" y="635" width="13" height="39" fill="#1d5a3c"/>
<rect x="1838" y="636" width="11" height="37" fill="#6fa888"/>
<rect x="1854" y="609" width="13" height="27" fill="#1d5a3c"/>
<rect x="1855" y="610" width="11" height="25" fill="#6fa888"/>
<rect x="1872" y="609" width="13" height="36" fill="#5a1510"/>
<rect x="1873" y="610" width="11" height="34" fill="#da5443"/>
<rect x="1890" y="644" width="13" height="31" fill="#5a1510"/>
<rect x="1891" y="645" width="11" height="29" fill="#da5443"/>
<rect x="1908" y="660" width="13" height="15" fill="#1d5a3c"/>
<rect x="1909" y="661" width="11" height="13" fill="#6fa888"/>
<rect x="1926" y="660" width="13" height="2" fill="#5a1510"/>
<rect x="1944" y="662" width="13" height="14" fill="#5a1510"/>
<rect x="1945" y="663" width="11" height="12" fill="#da5443"/>
<rect x="1961" y="676" width="13" height="21" fill="#5a1510"/>
<rect x="1962" y="677" width="11" height="19" fill="#da5443"/>
<rect x="1979" y="696" width="13" height="17" fill="#5a1510"/>
<rect x="1980" y="697" width="11" height="15" fill="#da5443"/>
<rect x="1997" y="697" width="13" height="16" fill="#1d5a3c"/>
<rect x="1998" y="698" width="11" height="14" fill="#6fa888"/>
<rect x="2015" y="696" width="13" height="20" fill="#5a1510"/>
<rect x="2016" y="697" width="11" height="18" fill="#da5443"/>
<rect x="2033" y="590" width="13" height="125" fill="#1d5a3c"/>
<rect x="2034" y="591" width="11" height="123" fill="#6fa888"/>
<rect x="2050" y="580" width="13" height="11" fill="#1d5a3c"/>
<rect x="2051" y="581" width="11" height="9" fill="#6fa888"/>
<rect x="2068" y="507" width="13" height="74" fill="#1d5a3c"/>
<rect x="2069" y="508" width="11" height="72" fill="#6fa888"/>
<rect x="2086" y="507" width="13" height="60" fill="#5a1510"/>
<rect x="2087" y="508" width="11" height="58" fill="#da5443"/>
<rect x="2104" y="466" width="13" height="102" fill="#1d5a3c"/>
<rect x="2105" y="467" width="11" height="100" fill="#6fa888"/>
<rect x="2122" y="466" width="13" height="24" fill="#5a1510"/>
<rect x="2123" y="467" width="11" height="22" fill="#da5443"/>
</g>
<line x1="143" x2="2493" y1="489.5" y2="489.5" stroke="#d85242" stroke-width="1.2" stroke-dasharray="1.2 1.8"/>
<rect x="2588.9" y="49.45" width="1.3" height="1331.25" fill="#4a4a4a"/>
<rect x="143" y="1330.8" width="2446.5" height="1.2" fill="#4a4a4a"/>
<rect x="18.3" y="1329.9" width="124.7" height="1.6" fill="#111"/>
<rect x="2589.5" y="1329.9" width="117.09999999999991" height="1.6" fill="#111"/>
<text x="18.5" y="36.0" font-size="23.2" fill="#dedede" textLength="714.2" lengthAdjust="spacingAndGlyphs"  xml:space="preserve">bitcoinwallah published on TradingView.com, May 13, 2025 09:05 UTC</text>
<text x="157.6" y="85.3" font-size="22.8" fill="#4b4b4d" textLength="337.2" lengthAdjust="spacingAndGlyphs"  xml:space="preserve">XRP / U.S. Dollar · 1D · BITSTAMP</text>
<text x="507.7" y="85.3" font-size="22.8" fill="#4b4b4d"  xml:space="preserve">O</text>
<text x="524.5" y="85.3" font-size="22.8" fill="#5c1a13" textLength="84.70000000000005" lengthAdjust="spacingAndGlyphs"  xml:space="preserve">2.54455</text>
<text x="623.2" y="85.3" font-size="22.8" fill="#4b4b4d"  xml:space="preserve">H</text>
<text x="638.8" y="85.3" font-size="22.8" fill="#5c1a13" textLength="84.5" lengthAdjust="spacingAndGlyphs"  xml:space="preserve">2.54585</text>
<text x="737.3" y="85.3" font-size="22.8" fill="#4b4b4d"  xml:space="preserve">L</text>
<text x="749.5" y="85.3" font-size="22.8" fill="#5c1a13" textLength="80.5" lengthAdjust="spacingAndGlyphs"  xml:space="preserve">2.42192</text>
<text x="844" y="85.3" font-size="22.8" fill="#4b4b4d"  xml:space="preserve">C</text>
<text x="859.5" y="85.3" font-size="22.8" fill="#5c1a13" textLength="84.10000000000002" lengthAdjust="spacingAndGlyphs"  xml:space="preserve">2.50426</text>
<text x="958.1" y="85.3" font-size="22.8" fill="#5c1a13" textLength="187.69999999999993" lengthAdjust="spacingAndGlyphs"  xml:space="preserve">−0.04107 (−1.61%)</text>
<text x="157.6" y="115.9" font-size="22.8" fill="#4b4b4d" textLength="269.0" lengthAdjust="spacingAndGlyphs"  xml:space="preserve">EMA (50, close, 0, EMA, 5)</text>
<text x="441" y="115.9" font-size="22.8" fill="#f23645" textLength="85.29999999999995" lengthAdjust="spacingAndGlyphs"  xml:space="preserve">2.24548</text>
<text x="157.6" y="146.7" font-size="22.8" fill="#4b4b4d" textLength="282.1" lengthAdjust="spacingAndGlyphs"  xml:space="preserve">EMA (200, close, 0, EMA, 5)</text>
<text x="454.1" y="146.7" font-size="22.8" fill="#2962ff" textLength="83.89999999999998" lengthAdjust="spacingAndGlyphs"  xml:space="preserve">2.02258</text>
<text x="157.6" y="177.6" font-size="22.8" fill="#4b4b4d" textLength="91.6" lengthAdjust="spacingAndGlyphs"  xml:space="preserve">Vol · XRP</text>
<text x="262.2" y="177.6" font-size="22.8" fill="#ef5350" textLength="40.30000000000001" lengthAdjust="spacingAndGlyphs"  xml:space="preserve">4.12</text>
<text x="306.5" y="177.6" font-size="22.8" fill="#ef5350" textLength="18.600000000000023" lengthAdjust="spacingAndGlyphs"  xml:space="preserve">M</text>
<text x="47.2" y="139.75000000000006" font-size="20.5" fill="#6a6a6c" textLength="81.3" lengthAdjust="spacingAndGlyphs"  xml:space="preserve">1.20000</text>
<text x="47.2" y="232.50000000000006" font-size="20.5" fill="#6a6a6c" textLength="81.3" lengthAdjust="spacingAndGlyphs"  xml:space="preserve">1.00000</text>
<text x="47.2" y="325.25000000000006" font-size="20.5" fill="#6a6a6c" textLength="81.3" lengthAdjust="spacingAndGlyphs"  xml:space="preserve">0.80000</text>
<text x="47.2" y="418.00000000000006" font-size="20.5" fill="#6a6a6c" textLength="81.3" lengthAdjust="spacingAndGlyphs"  xml:space="preserve">0.60000</text>
<text x="47.2" y="510.75000000000006" font-size="20.5" fill="#6a6a6c" textLength="81.3" lengthAdjust="spacingAndGlyphs"  xml:space="preserve">0.40000</text>
<text x="47.2" y="603.5" font-size="20.5" fill="#6a6a6c" textLength="81.3" lengthAdjust="spacingAndGlyphs"  xml:space="preserve">0.20000</text>
<text x="47.2" y="696.25" font-size="20.5" fill="#6a6a6c" textLength="81.3" lengthAdjust="spacingAndGlyphs"  xml:space="preserve">0.00000</text>
<text x="34.5" y="789.0" font-size="20.5" fill="#6a6a6c" textLength="94" lengthAdjust="spacingAndGlyphs"  xml:space="preserve">−0.20000</text>
<text x="34.5" y="881.75" font-size="20.5" fill="#6a6a6c" textLength="94" lengthAdjust="spacingAndGlyphs"  xml:space="preserve">−0.40000</text>
<text x="34.5" y="974.5" font-size="20.5" fill="#6a6a6c" textLength="94" lengthAdjust="spacingAndGlyphs"  xml:space="preserve">−0.60000</text>
<text x="34.5" y="1067.25" font-size="20.5" fill="#6a6a6c" textLength="94" lengthAdjust="spacingAndGlyphs"  xml:space="preserve">−0.80000</text>
<text x="34.5" y="1160.0" font-size="20.5" fill="#6a6a6c" textLength="94" lengthAdjust="spacingAndGlyphs"  xml:space="preserve">−1.00000</text>
<text x="34.5" y="1252.75" font-size="20.5" fill="#6a6a6c" textLength="94" lengthAdjust="spacingAndGlyphs"  xml:space="preserve">−1.20000</text>
<text x="2605.5" y="156.15" font-size="20.5" fill="#6a6a6c" textLength="81.4" lengthAdjust="spacingAndGlyphs"  xml:space="preserve">3.20000</text>
<text x="2605.5" y="245.15" font-size="20.5" fill="#6a6a6c" textLength="81.4" lengthAdjust="spacingAndGlyphs"  xml:space="preserve">3.00000</text>
<text x="2605.5" y="341.15" font-size="20.5" fill="#6a6a6c" textLength="81.4" lengthAdjust="spacingAndGlyphs"  xml:space="preserve">2.80000</text>
<text x="2605.5" y="444.15" font-size="20.5" fill="#6a6a6c" textLength="81.4" lengthAdjust="spacingAndGlyphs"  xml:space="preserve">2.60000</text>
<text x="2605.5" y="554.15" font-size="20.5" fill="#6a6a6c" textLength="81.4" lengthAdjust="spacingAndGlyphs"  xml:space="preserve">2.40000</text>
<text x="2605.5" y="613.15" font-size="20.5" fill="#6a6a6c" textLength="81.4" lengthAdjust="spacingAndGlyphs"  xml:space="preserve">2.30000</text>
<text x="2605.5" y="675.15" font-size="20.5" fill="#6a6a6c" textLength="81.4" lengthAdjust="spacingAndGlyphs"  xml:space="preserve">2.20000</text>
<text x="2605.5" y="739.15" font-size="20.5" fill="#6a6a6c" textLength="81.4" lengthAdjust="spacingAndGlyphs"  xml:space="preserve">2.10000</text>
<text x="2605.5" y="807.15" font-size="20.5" fill="#6a6a6c" textLength="81.4" lengthAdjust="spacingAndGlyphs"  xml:space="preserve">2.00000</text>
<text x="2605.5" y="878.15" font-size="20.5" fill="#6a6a6c" textLength="81.4" lengthAdjust="spacingAndGlyphs"  xml:space="preserve">1.90000</text>
<text x="2605.5" y="953.15" font-size="20.5" fill="#6a6a6c" textLength="81.4" lengthAdjust="spacingAndGlyphs"  xml:space="preserve">1.80000</text>
<text x="2605.5" y="1016.15" font-size="20.5" fill="#6a6a6c" textLength="81.4" lengthAdjust="spacingAndGlyphs"  xml:space="preserve">1.72000</text>
<text x="2605.5" y="1082.15" font-size="20.5" fill="#6a6a6c" textLength="81.4" lengthAdjust="spacingAndGlyphs"  xml:space="preserve">1.64000</text>
<text x="2605.5" y="1133.15" font-size="20.5" fill="#6a6a6c" textLength="81.4" lengthAdjust="spacingAndGlyphs"  xml:space="preserve">1.58000</text>
<text x="2605.5" y="1187.15" font-size="20.5" fill="#6a6a6c" textLength="81.4" lengthAdjust="spacingAndGlyphs"  xml:space="preserve">1.52000</text>
<text x="2605.5" y="1243.15" font-size="20.5" fill="#6a6a6c" textLength="81.4" lengthAdjust="spacingAndGlyphs"  xml:space="preserve">1.46000</text>
<text x="2605.5" y="1296.15" font-size="20.5" fill="#6a6a6c" textLength="81.4" lengthAdjust="spacingAndGlyphs"  xml:space="preserve">1.40500</text>
<text x="223.5" y="1363.4" font-size="20.5" fill="#4b4b4d" text-anchor="middle"  xml:space="preserve">26</text>
<text x="330.5" y="1363.4" font-size="20.5" fill="#4b4b4d" font-weight="bold" text-anchor="middle"  xml:space="preserve">Feb</text>
<text x="419.5" y="1363.4" font-size="20.5" fill="#4b4b4d" text-anchor="middle"  xml:space="preserve">6</text>
<text x="508.5" y="1363.4" font-size="20.5" fill="#4b4b4d" text-anchor="middle"  xml:space="preserve">11</text>
<text x="597.5" y="1363.4" font-size="20.5" fill="#4b4b4d" text-anchor="middle"  xml:space="preserve">16</text>
<text x="686.5" y="1363.4" font-size="20.5" fill="#4b4b4d" text-anchor="middle"  xml:space="preserve">21</text>
<text x="828.5" y="1363.4" font-size="20.5" fill="#4b4b4d" font-weight="bold" text-anchor="middle"  xml:space="preserve">Mar</text>
<text x="917.5" y="1363.4" font-size="20.5" fill="#4b4b4d" text-anchor="middle"  xml:space="preserve">6</text>
<text x="1006.5" y="1363.4" font-size="20.5" fill="#4b4b4d" text-anchor="middle"  xml:space="preserve">11</text>
<text x="1095.5" y="1363.4" font-size="20.5" fill="#4b4b4d" text-anchor="middle"  xml:space="preserve">16</text>
<text x="1184.5" y="1363.4" font-size="20.5" fill="#4b4b4d" text-anchor="middle"  xml:space="preserve">21</text>
<text x="1273.5" y="1363.4" font-size="20.5" fill="#4b4b4d" text-anchor="middle"  xml:space="preserve">26</text>
<text x="1380.5" y="1363.4" font-size="20.5" fill="#4b4b4d" font-weight="bold" text-anchor="middle"  xml:space="preserve">Apr</text>
<text x="1469.5" y="1363.4" font-size="20.5" fill="#4b4b4d" text-anchor="middle"  xml:space="preserve">6</text>
<text x="1558.5" y="1363.4" font-size="20.5" fill="#4b4b4d" text-anchor="middle"  xml:space="preserve">11</text>
<text x="1647.5" y="1363.4" font-size="20.5" fill="#4b4b4d" text-anchor="middle"  xml:space="preserve">16</text>
<text x="1736.5" y="1363.4" font-size="20.5" fill="#4b4b4d" text-anchor="middle"  xml:space="preserve">21</text>
<text x="1825.5" y="1363.4" font-size="20.5" fill="#4b4b4d" text-anchor="middle"  xml:space="preserve">26</text>
<text x="1914.5" y="1363.4" font-size="20.5" fill="#4b4b4d" font-weight="bold" text-anchor="middle"  xml:space="preserve">May</text>
<text x="2003.5" y="1363.4" font-size="20.5" fill="#4b4b4d" text-anchor="middle"  xml:space="preserve">6</text>
<text x="2092.5" y="1363.4" font-size="20.5" fill="#4b4b4d" text-anchor="middle"  xml:space="preserve">11</text>
<text x="2181.5" y="1363.4" font-size="20.5" fill="#4b4b4d" text-anchor="middle"  xml:space="preserve">16</text>
<text x="2270.5" y="1363.4" font-size="20.5" fill="#4b4b4d" text-anchor="middle"  xml:space="preserve">21</text>
<text x="2359.5" y="1363.4" font-size="20.5" fill="#4b4b4d" text-anchor="middle"  xml:space="preserve">26</text>
<text x="2466.5" y="1363.4" font-size="20.5" fill="#4b4b4d" font-weight="bold" text-anchor="middle"  xml:space="preserve">Jun</text>
<text x="2555.5" y="1363.4" font-size="20.5" fill="#4b4b4d" text-anchor="middle"  xml:space="preserve">6</text>
<rect x="2596" y="56" width="105" height="46" rx="7" fill="#ffffff"/>
<text x="2613" y="85.6" font-size="23.6" fill="#0a0a0a" textLength="44.5" lengthAdjust="spacingAndGlyphs"  xml:space="preserve">USD</text>
<path d="M2497.5,475 H2590 V503.7 H2497.5 a4.5,4.5 0 0 1 -4.5,-4.5 V479.5 a4.5,4.5 0 0 1 4.5,-4.5 Z" fill="#d85242"/>
<path d="M2590,475 H2697 a4.5,4.5 0 0 1 4.5,4.5 V522 a4.5,4.5 0 0 1 -4.5,4.5 H2590 Z" fill="#d85242"/>
<text x="2501.5" y="497" font-size="21.5" fill="#ffffff" textLength="79.5" lengthAdjust="spacingAndGlyphs"  xml:space="preserve">XRPUSD</text>
<text x="2607.6" y="496.2" font-size="20.5" fill="#ffffff" textLength="80" lengthAdjust="spacingAndGlyphs"  xml:space="preserve">2.50426</text>
<text x="2608.4" y="519.2" font-size="20.5" fill="#ffffff" textLength="84.6" lengthAdjust="spacingAndGlyphs" fill-opacity="0.72"  xml:space="preserve">14:54:57</text>
<circle cx="81.5" cy="1356.6" r="16.8" fill="#efe6de"/>
<text x="81.5" y="1364" font-size="20" fill="#4b4b4d" text-anchor="middle"  xml:space="preserve">Z</text>
<circle cx="2648.8" cy="1356.6" r="16.8" fill="#efe6de"/>
<text x="2648.8" y="1364" font-size="20" fill="#4b4b4d" text-anchor="middle"  xml:space="preserve">A</text>
<g fill="#dcdcdc">
<path d="M18,1402.8 H32 V1419.9 H24.75 V1409.6 H18 Z"/>
<circle cx="37.95" cy="1406.7" r="3.9"/>
<path d="M45.3,1402.8 H53.2 L46.1,1419.9 H38.3 Z"/>
</g>
<text x="60.1" y="1421.8" font-size="24" fill="#dcdcdc" textLength="133.5" lengthAdjust="spacingAndGlyphs" stroke="#dcdcdc" stroke-width="0.5" xml:space="preserve">TradingView</text>
</svg>
</body></html>
